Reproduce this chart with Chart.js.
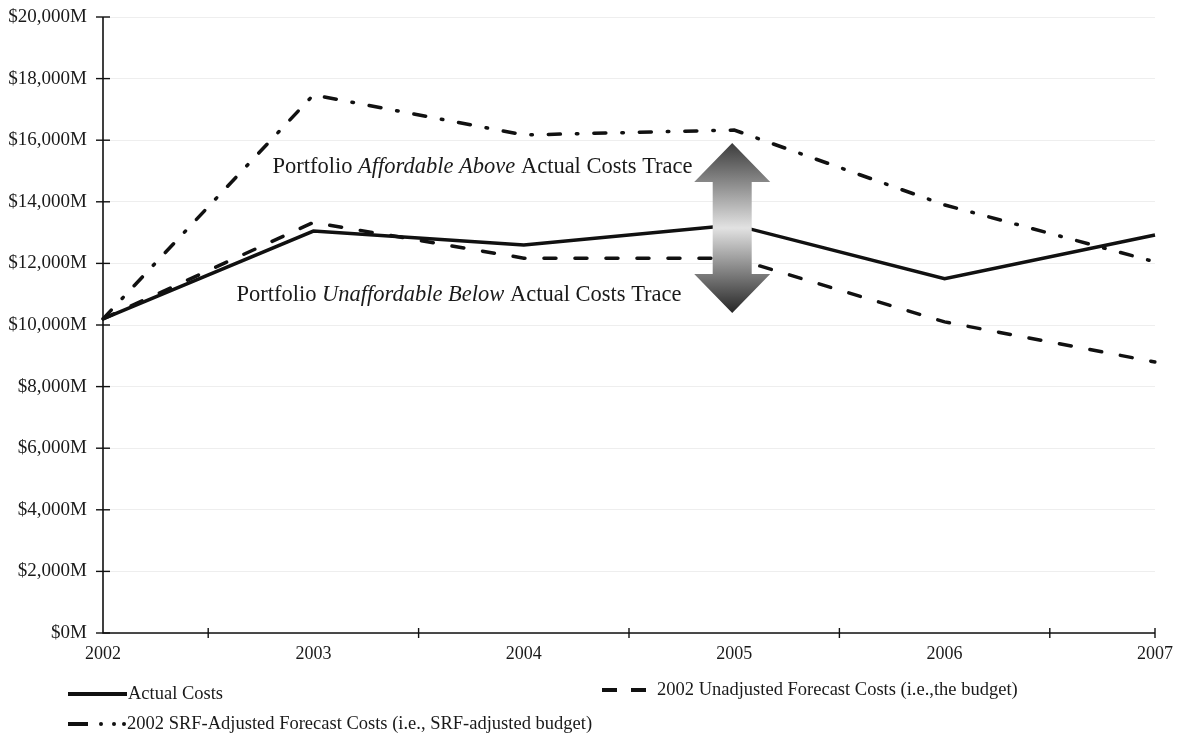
<!DOCTYPE html>
<html>
<head>
<meta charset="utf-8">
<script src="https://cdn.jsdelivr.net/npm/chart.js@4.4.1/dist/chart.umd.min.js"></script>
<style>
html,body{margin:0;padding:0;background:#fff;}
#wrap{position:relative;width:1178px;height:739px;}
</style>
</head>
<body>
<div id="wrap"><canvas id="c" width="1178" height="739"></canvas></div>
<script>
const years = ['2002','2003','2004','2005','2006','2007'];
const actualCosts = [10200, 13050, 12600, 13250, 11500, 12920];
const unadjustedForecast = [10200, 13330, 12170, 12170, 10100, 8800];
const srfAdjustedForecast = [10200, 17470, 16170, 16330, 13900, 12050];
const yTicks = [0, 2000, 4000, 6000, 8000, 10000, 12000, 14000, 16000, 18000, 20000];
const seriesNames = ['Actual Costs', '2002 Unadjusted Forecast Costs (i.e.,the budget)', '2002 SRF-Adjusted Forecast Costs (i.e., SRF-adjusted budget)'];
const annotAbove = ['Portfolio ', 'Affordable Above', ' Actual Costs Trace'];
const annotBelow = ['Portfolio ', 'Unaffordable Below', ' Actual Costs Trace'];

const SERIF = '"Liberation Serif", "Times New Roman", "DejaVu Serif", serif';
const DASH = [12, 19];
const DASHDOT = [12, 16, 1.5, 16];

function fmt(v){ return '$' + v.toLocaleString('en-US') + 'M'; }

const overlay = {
  id: 'overlay',
  afterDraw(chart){
    const ctx = chart.ctx, x = chart.scales.x, y = chart.scales.y, ca = chart.chartArea;
    ctx.save();
    ctx.strokeStyle = '#111'; ctx.lineWidth = 1.6; ctx.setLineDash([]);
    ctx.beginPath(); ctx.moveTo(ca.left, ca.top); ctx.lineTo(ca.left, ca.bottom); ctx.lineTo(ca.right, ca.bottom); ctx.stroke();
    ctx.lineWidth = 1.4;
    yTicks.forEach(v => { const py = y.getPixelForValue(v); ctx.beginPath(); ctx.moveTo(ca.left-7, py); ctx.lineTo(ca.left+7, py); ctx.stroke(); });
    for (let i = 0; i < years.length - 1; i++) {
      const px = (x.getPixelForValue(i) + x.getPixelForValue(i+1)) / 2;
      ctx.beginPath(); ctx.moveTo(px, ca.bottom-5); ctx.lineTo(px, ca.bottom+5); ctx.stroke();
    }
    const pe = x.getPixelForValue(years.length-1);
    ctx.beginPath(); ctx.moveTo(pe, ca.bottom-5); ctx.lineTo(pe, ca.bottom+5); ctx.stroke();

    function drawMixed(parts, startX, cy){
      let cx = startX;
      ctx.textBaseline = 'middle'; ctx.textAlign = 'left'; ctx.fillStyle = '#1a1a1a';
      parts.forEach((p, i) => {
        ctx.font = (i === 1 ? 'italic ' : '') + '22.5px ' + SERIF;
        ctx.fillText(p, cx, cy);
        cx += ctx.measureText(p).width;
      });
    }
    const x2005 = x.getPixelForValue(3);
    const ax = x2005 - 2;
    drawMixed(annotAbove, x.getPixelForValue(1) - 41, y.getPixelForValue(15120));
    drawMixed(annotBelow, x.getPixelForValue(1) - 77, y.getPixelForValue(10970));

    const top = y.getPixelForValue(15910), bot = y.getPixelForValue(10390);
    const headW = 38, shaftW = 19.5, headH = 39;
    const g = ctx.createLinearGradient(0, top, 0, bot);
    g.addColorStop(0, '#3c3c3c'); g.addColorStop(0.5, '#e2e2e2'); g.addColorStop(1, '#262626');
    ctx.fillStyle = g;
    ctx.beginPath();
    ctx.moveTo(ax, top);
    ctx.lineTo(ax + headW, top + headH);
    ctx.lineTo(ax + shaftW, top + headH);
    ctx.lineTo(ax + shaftW, bot - headH);
    ctx.lineTo(ax + headW, bot - headH);
    ctx.lineTo(ax, bot);
    ctx.lineTo(ax - headW, bot - headH);
    ctx.lineTo(ax - shaftW, bot - headH);
    ctx.lineTo(ax - shaftW, top + headH);
    ctx.lineTo(ax - headW, top + headH);
    ctx.closePath();
    ctx.fill();

    const ds = chart.data.datasets;
    ctx.strokeStyle = '#111'; ctx.fillStyle = '#111'; ctx.lineWidth = 4; ctx.lineCap = 'butt';
    ctx.beginPath(); ctx.moveTo(68, 694); ctx.lineTo(127, 694); ctx.stroke();
    [[602,617],[631,646]].forEach(s => { ctx.beginPath(); ctx.moveTo(s[0], 690); ctx.lineTo(s[1], 690); ctx.stroke(); });
    ctx.beginPath(); ctx.moveTo(68, 724); ctx.lineTo(88, 724); ctx.stroke();
    [101, 114, 124].forEach(px => { ctx.beginPath(); ctx.arc(px, 724, 2, 0, Math.PI*2); ctx.fill(); });
    ctx.font = '18.5px ' + SERIF; ctx.fillStyle = '#1a1a1a'; ctx.textAlign = 'left'; ctx.textBaseline = 'middle';
    ctx.fillText(ds[0].label, 128, 694);
    ctx.fillText(ds[1].label, 657, 690);
    ctx.fillText(ds[2].label, 127, 724);
    ctx.restore();
  }
};

new Chart(document.getElementById('c'), {
  type: 'line',
  data: {
    labels: years,
    datasets: [
      {label: seriesNames[0], data: actualCosts, borderColor: '#111', borderWidth: 3.5, pointRadius: 0, tension: 0, fill: false},
      {label: seriesNames[1], data: unadjustedForecast, borderColor: '#111', borderWidth: 3.5, borderDash: DASH, borderCapStyle: 'round', pointRadius: 0, tension: 0, fill: false},
      {label: seriesNames[2], data: srfAdjustedForecast, borderColor: '#111', borderWidth: 3.5, borderDash: DASHDOT, borderCapStyle: 'round', pointRadius: 0, tension: 0, fill: false}
    ]
  },
  options: {
    responsive: false,
    animation: false,
    layout: {padding: {left: 0, top: 17, right: 23, bottom: 0}},
    plugins: {legend: {display: false}, tooltip: {enabled: false}},
    scales: {
      x: {
        offset: false,
        grid: {display: false, drawTicks: false},
        border: {display: false},
        ticks: {color: '#1a1a1a', font: {family: SERIF, size: 18}, padding: 10, maxRotation: 0, autoSkip: false},
        afterFit(s){ s.height = 106; s.paddingLeft = 0; s.paddingRight = 0; }
      },
      y: {
        min: 0, max: 20000,
        afterBuildTicks(s){ s.ticks = yTicks.map(v => ({value: v})); },
        grid: {color: '#eeeeee', lineWidth: 1, drawTicks: false},
        border: {display: false},
        ticks: {color: '#1a1a1a', font: {family: SERIF, size: 19}, padding: 16, callback: v => fmt(v)},
        afterFit(s){ s.width = 103; s.paddingTop = 0; s.paddingBottom = 0; }
      }
    }
  },
  plugins: [overlay]
});
</script>
</body>
</html>
